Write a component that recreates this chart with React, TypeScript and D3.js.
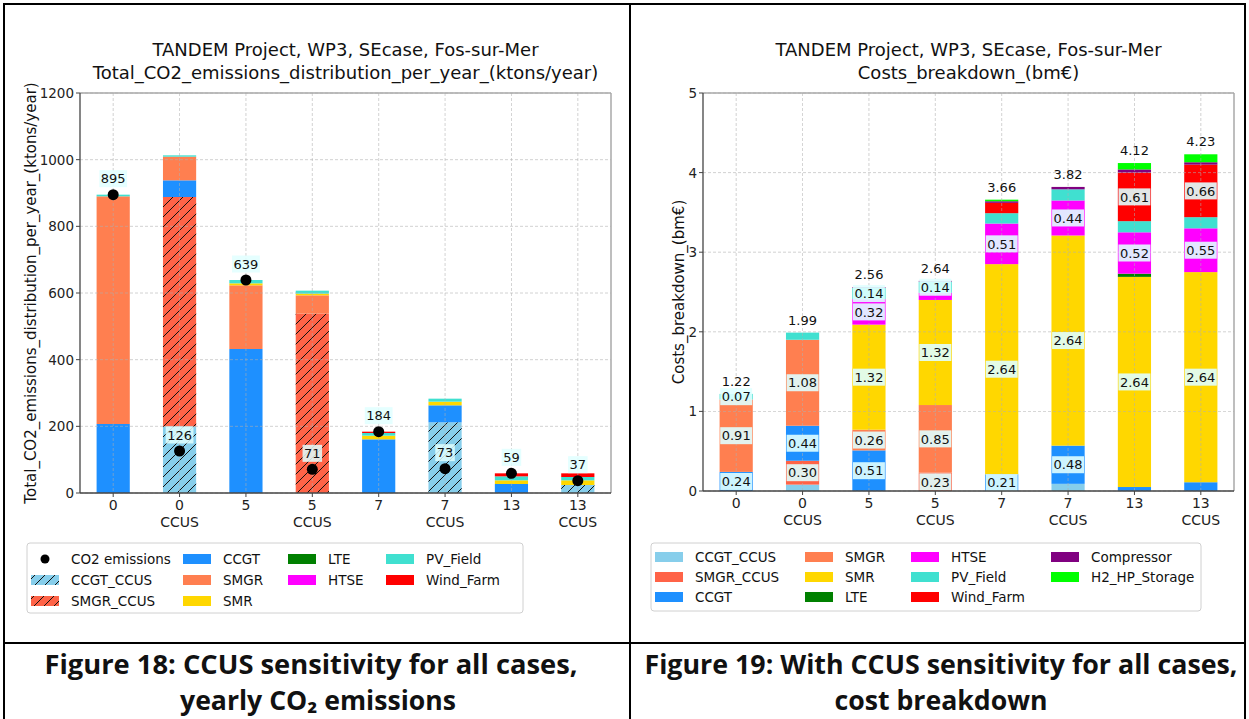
import React from "react";
import * as d3 from "d3";

// ---------- shared categories ----------
const caseMain = ["0", "0", "5", "5", "7", "7", "13", "13"];
const caseSub = ["", "CCUS", "", "CCUS", "", "CCUS", "", "CCUS"];

const seriesNames = ["CCGT_CCUS", "SMGR_CCUS", "CCGT", "SMGR", "SMR", "LTE", "HTSE", "PV_Field", "Wind_Farm", "Compressor", "H2_HP_Storage"];
const seriesColors = ["#87ceeb", "#ff6347", "#1e90ff", "#ff7f50", "#ffd700", "#008000", "#ff00ff", "#40e0d0", "#ff0000", "#800080", "#00ff00"];

// ---------- Figure 18: emissions (ktons/year) ----------
const emCCGT_CCUS = [0, 200, 0, 0, 0, 212, 0, 24];
const emSMGR_CCUS = [0, 688, 0, 538, 0, 0, 0, 0];
const emCCGT = [207, 50, 432, 0, 161, 51, 27, 0];
const emSMGR = [683, 71, 191, 55, 0, 0, 0, 0];
const emSMR = [0, 0, 6, 5, 11, 11, 11, 14];
const emLTE = [0, 0, 0, 0, 0, 0, 0, 0];
const emHTSE = [0, 0, 0, 0, 0, 0, 0, 0];
const emPV = [5, 4, 10, 9, 8, 9, 12, 10];
const emWind = [0, 0, 0, 0, 4, 0, 9, 11];
const co2Emissions = [895, 126, 639, 71, 184, 73, 59, 37];
const emTicks = [0, 200, 400, 600, 800, 1000, 1200];

// ---------- Figure 19: costs (bm€) ----------
const cCCGT_CCUS = [0, 0.08, 0, 0, 0, 0.09, 0, 0];
const cSMGR_CCUS = [0, 0.3, 0, 0.23, 0, 0, 0, 0];
const cCCGT = [0.24, 0.44, 0.51, 0, 0.21, 0.48, 0.05, 0.11];
const cSMGR = [0.91, 1.08, 0.26, 0.85, 0, 0, 0, 0];
const cSMR = [0, 0, 1.32, 1.32, 2.64, 2.64, 2.64, 2.64];
const cLTE = [0, 0, 0, 0, 0, 0, 0.04, 0];
const cHTSE = [0, 0, 0.32, 0.09, 0.51, 0.44, 0.52, 0.55];
const cPV = [0.07, 0.09, 0.14, 0.14, 0.13, 0.14, 0.14, 0.14];
const cWind = [0, 0, 0, 0, 0.13, 0, 0.61, 0.66];
const cComp = [0, 0, 0.01, 0.01, 0.02, 0.03, 0.04, 0.03];
const cH2 = [0, 0, 0, 0, 0.02, 0, 0.08, 0.1];
const costTicks = [0, 1, 2, 3, 4, 5];
const costLabelMin = 0.2;
const costLabelExtras = ["0:PV_Field", "2:PV_Field", "3:PV_Field"];

const emSeries = [emCCGT_CCUS, emSMGR_CCUS, emCCGT, emSMGR, emSMR, emLTE, emHTSE, emPV, emWind];
const costSeries = [cCCGT_CCUS, cSMGR_CCUS, cCCGT, cSMGR, cSMR, cLTE, cHTSE, cPV, cWind, cComp, cH2];

const FONT = "DejaVu Sans, Verdana, sans-serif";
const VAL_FS = 13;
const TICK_FS = 14;

function buildRows(series: number[][]) {
  return caseMain.map((_, i) => {
    const r: any = { i };
    series.forEach((s, k) => (r[seriesNames[k]] = s[i]));
    return r;
  });
}

type PanelProps = {
  x0: number; x1: number; y0: number; y1: number;
  series: number[][]; domainMax: number; ticks: number[];
  hatched: boolean; title2: string; ylabel: string; ylabelX: number;
  kind: "em" | "cost";
};

function Panel(p: PanelProps) {
  const keys = seriesNames.slice(0, p.series.length);
  const rows = buildRows(p.series);
  const stack = d3.stack<any>().keys(keys)(rows);
  const x = d3.scaleBand<number>().domain(d3.range(8)).range([p.x0, p.x1]).paddingInner(0.5).paddingOuter(0.25);
  const y = d3.scaleLinear().domain([0, p.domainMax]).range([p.y1, p.y0]);
  const bw = x.bandwidth();
  const cx = (i: number) => (x(i) as number) + bw / 2;
  const midX = (p.x0 + p.x1) / 2;

  const bars: any[] = [];
  const labels: any[] = [];
  stack.forEach((layer, k) => {
    layer.forEach((d, i) => {
      const v = d[1] - d[0];
      if (v <= 0) return;
      const name = keys[k];
      const isHatch = p.hatched && (name === "CCGT_CCUS" || name === "SMGR_CCUS");
      bars.push(
        <g key={`b${k}-${i}`}>
          <rect x={x(i)} y={y(d[1])} width={bw} height={y(d[0]) - y(d[1])} fill={seriesColors[k]} />
          {isHatch && <rect x={x(i)} y={y(d[1])} width={bw} height={y(d[0]) - y(d[1])} fill="url(#hatch)" />}
        </g>
      );
      if (p.kind === "cost" && (v >= costLabelMin || costLabelExtras.includes(`${i}:${name}`))) {
        const t = v.toFixed(2);
        const ly = y((d[0] + d[1]) / 2);
        const w = 2.226 * VAL_FS + 3;
        labels.push(
          <g key={`l${k}-${i}`}>
            <rect x={cx(i) - w / 2} y={ly - 8.5} width={w} height={17} fill="#e0ffff" opacity={0.9} />
            <text x={cx(i)} y={ly + 4.7} textAnchor="middle" fontSize={VAL_FS} fontFamily={FONT} fill="#111">{t}</text>
          </g>
        );
      }
    });
  });

  const totals = rows.map((_, i) => d3.sum(p.series, (s) => s[i]));

  return (
    <g>
      {/* title */}
      <text x={midX} y={56} textAnchor="middle" fontSize={18} fontFamily={FONT} fill="#111">TANDEM Project, WP3, SEcase, Fos-sur-Mer</text>
      <text x={midX} y={79} textAnchor="middle" fontSize={18} fontFamily={FONT} fill="#111">{p.title2}</text>
      {/* bars */}
      {bars}
      {/* grid */}
      {p.ticks.map((t) => (
        <line key={`gy${t}`} x1={p.x0} x2={p.x1} y1={y(t)} y2={y(t)} stroke="#b0b0b0" strokeDasharray="3,2" strokeWidth={0.8} opacity={0.7} />
      ))}
      {d3.range(8).map((i) => (
        <line key={`gx${i}`} x1={cx(i)} x2={cx(i)} y1={p.y0} y2={p.y1} stroke="#b0b0b0" strokeDasharray="3,2" strokeWidth={0.8} opacity={0.7} />
      ))}
      {labels}
      {/* emissions dots & labels */}
      {p.kind === "em" && co2Emissions.map((v, i) => {
        const w = String(v).length * 0.636 * VAL_FS + 3;
        return (
          <g key={`d${i}`}>
            <circle cx={cx(i)} cy={y(v)} r={5.5} fill="#000" />
            <rect x={cx(i) - w / 2} y={y(v) - 24.5} width={w} height={17} fill="#e0ffff" opacity={0.85} />
            <text x={cx(i)} y={y(v) - 11.5} textAnchor="middle" fontSize={VAL_FS} fontFamily={FONT} fill="#111">{v}</text>
          </g>
        );
      })}
      {p.kind === "cost" && totals.map((v, i) => (
        <text key={`t${i}`} x={cx(i)} y={y(v) - 8} textAnchor="middle" fontSize={VAL_FS} fontFamily={FONT} fill="#111">{v.toFixed(2)}</text>
      ))}
      {/* frame */}
      <line x1={p.x0} x2={p.x1} y1={p.y0} y2={p.y0} stroke="#a8a8a8" strokeWidth={1.5} />
      <line x1={p.x1} x2={p.x1} y1={p.y0} y2={p.y1} stroke="#a8a8a8" strokeWidth={1.5} />
      <line x1={p.x0} x2={p.x0} y1={p.y0} y2={p.y1} stroke="#444" strokeWidth={1.3} />
      <line x1={p.x0} x2={p.x1} y1={p.y1} y2={p.y1} stroke="#444" strokeWidth={1.3} />
      {/* y ticks */}
      {p.ticks.map((t) => (
        <g key={`ty${t}`}>
          <line x1={p.x0 - 4} x2={p.x0} y1={y(t)} y2={y(t)} stroke="#444" />
          <text x={p.x0 - 6} y={y(t) + 5} textAnchor="end" fontSize={TICK_FS - 0.5} fontFamily={FONT} fill="#222">{t}</text>
        </g>
      ))}
      {/* x ticks */}
      {d3.range(8).map((i) => (
        <g key={`tx${i}`}>
          <line x1={cx(i)} x2={cx(i)} y1={p.y1} y2={p.y1 + 4} stroke="#444" />
          <text x={cx(i)} y={p.y1 + 17} textAnchor="middle" fontSize={TICK_FS} fontFamily={FONT} fill="#222">{caseMain[i]}</text>
          {caseSub[i] && <text x={cx(i)} y={p.y1 + 34} textAnchor="middle" fontSize={TICK_FS} fontFamily={FONT} fill="#222">{caseSub[i]}</text>}
        </g>
      ))}
      {/* y label */}
      <text transform={`translate(${p.ylabelX},${(p.y0 + p.y1) / 2}) rotate(-90)`} textAnchor="middle" fontSize={15} fontFamily={FONT} fill="#111">{p.ylabel}</text>
    </g>
  );
}

type LegendItem = { label: string; color?: string; hatch?: boolean; dot?: boolean };

function Legend({ x, y, w, h, cols, colX, rowY }: { x: number; y: number; w: number; h: number; cols: LegendItem[][]; colX: number[]; rowY: number[] }) {
  return (
    <g>
      <rect x={x} y={y} width={w} height={h} rx={3} fill="#fff" stroke="#d0d0d0" strokeWidth={1} />
      {cols.map((col, c) =>
        col.map((it, r) => (
          <g key={`${c}-${r}`}>
            {it.dot ? (
              <circle cx={colX[c] + 14} cy={rowY[r]} r={4.5} fill="#000" />
            ) : (
              <>
                <rect x={colX[c]} y={rowY[r] - 5} width={28} height={10} fill={it.color} />
                {it.hatch && <rect x={colX[c]} y={rowY[r] - 5} width={28} height={10} fill="url(#hatch)" />}
              </>
            )}
            <text x={colX[c] + 40} y={rowY[r] + 5} fontSize={13.5} fontFamily={FONT} fill="#111">{it.label}</text>
          </g>
        ))
      )}
    </g>
  );
}

const col = (name: string, hatch = false): LegendItem => ({ label: name, color: seriesColors[seriesNames.indexOf(name)], hatch });

export default function App() {
  const leftLegend: LegendItem[][] = [
    [{ label: "CO2 emissions", dot: true }, col("CCGT_CCUS", true), col("SMGR_CCUS", true)],
    [col("CCGT"), col("SMGR"), col("SMR")],
    [col("LTE"), col("HTSE")],
    [col("PV_Field"), col("Wind_Farm")],
  ];
  const rightLegend: LegendItem[][] = [
    [col("CCGT_CCUS"), col("SMGR_CCUS"), col("CCGT")],
    [col("SMGR"), col("SMR"), col("LTE")],
    [col("HTSE"), col("PV_Field"), col("Wind_Farm")],
    [col("Compressor"), col("H2_HP_Storage")],
  ];
  const capFont = "'Liberation Sans Narrow', 'Open Sans', sans-serif";
  return (
    <div style={{ position: "fixed", left: 0, top: 0 }}>
      <svg width={1249} height={719} style={{ display: "block", background: "#fff" }}>
        <defs>
          <pattern id="hatch" patternUnits="userSpaceOnUse" width={10} height={10}>
            <path d="M-2,2 L2,-2 M0,10 L10,0 M8,12 L12,8" stroke="#111" strokeWidth={1} />
          </pattern>
        </defs>
        <Panel x0={80} x1={611} y0={93} y1={493} series={emSeries} domainMax={1200} ticks={emTicks} hatched={true}
          title2="Total_CO2_emissions_distribution_per_year_(ktons/year)" ylabel="Total_CO2_emissions_distribution_per_year_(ktons/year)" ylabelX={36} kind="em" />
        <Panel x0={703} x1={1234} y0={93} y1={491} series={costSeries} domainMax={5} ticks={costTicks} hatched={false}
          title2="Costs_breakdown_(bm€)" ylabel="Costs_breakdown_(bm€)" ylabelX={684} kind="cost" />
        <Legend x={27} y={543} w={496} h={70} cols={leftLegend} colX={[31, 183, 288, 386]} rowY={[559, 580, 601]} />
        <Legend x={651} y={543} w={550} h={68} cols={rightLegend} colX={[655, 805, 911, 1051]} rowY={[557, 577, 597]} />
        {/* table lines */}
        <rect x={4} y={4} width={1241} height={720} fill="none" stroke="#000" strokeWidth={2} />
        <line x1={630} x2={630} y1={4} y2={719} stroke="#000" strokeWidth={2} />
        <line x1={4} x2={1245} y1={643} y2={643} stroke="#000" strokeWidth={2} />
        {/* captions */}
        <text x={311} y={674} textAnchor="middle" fontSize={26} fontWeight="bold" fontFamily={capFont} fill="#111" textLength={533} lengthAdjust="spacingAndGlyphs">Figure 18: CCUS sensitivity for all cases,</text>
        <text x={318} y={710} textAnchor="middle" fontSize={26} fontWeight="bold" fontFamily={capFont} fill="#111" textLength={276} lengthAdjust="spacingAndGlyphs">yearly CO₂ emissions</text>
        <text x={941} y={674} textAnchor="middle" fontSize={26} fontWeight="bold" fontFamily={capFont} fill="#111" textLength={593} lengthAdjust="spacingAndGlyphs">Figure 19: With CCUS sensitivity for all cases,</text>
        <text x={941} y={710} textAnchor="middle" fontSize={26} fontWeight="bold" fontFamily={capFont} fill="#111" textLength={213} lengthAdjust="spacingAndGlyphs">cost breakdown</text>
      </svg>
    </div>
  );
}
